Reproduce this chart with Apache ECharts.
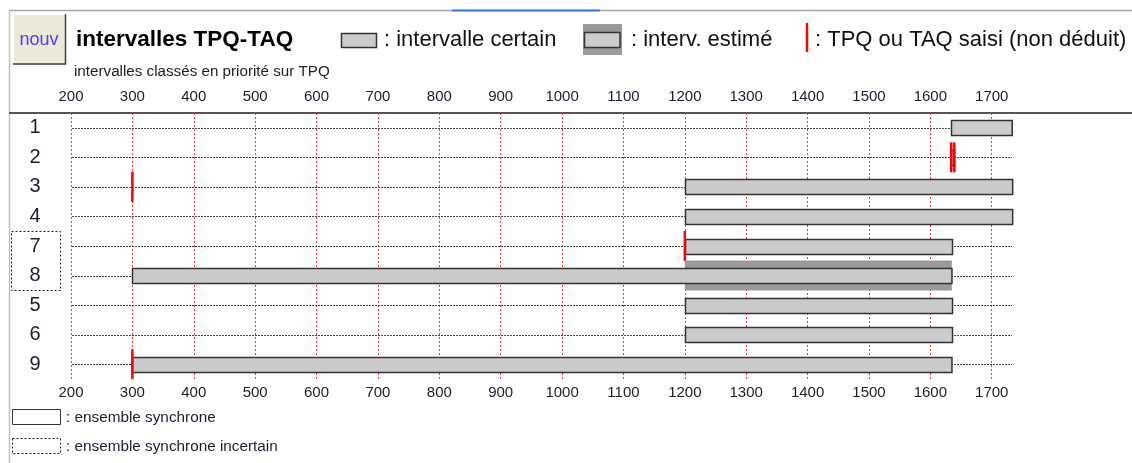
<!DOCTYPE html>
<html><head><meta charset="utf-8">
<script src="https://cdn.jsdelivr.net/npm/echarts@6.0.0/dist/echarts.min.js"></script>
<style>html,body{margin:0;padding:0;background:#fff}#c{width:1132px;height:463px}</style>
</head><body><div id="c"></div>
<script>
// ---- data ----
const rowLabels = ['1','2','3','4','7','8','5','6','9'];
const barStart  = [1634, 1634, 1200, 1200, 1200, 300, 1200, 1200, 300];
const barEnd    = [1733, 1639, 1733, 1733, 1635, 1635, 1635, 1635, 1635];
const estStart  = [null, null, null, null, null, 1200, null, null, null];
const estEnd    = [null, null, null, null, null, 1635, null, null, null];
const redMarks  = [[], [1634, 1639], [300], [], [1200], [], [], [], [300]];
const axisMin = 200, axisMax = 1733, tickStep = 100;

// ---- series data built from arrays ----
const rowLineData = rowLabels.map((_, i) => [axisMin, i, axisMax]);
const estData = [];
estStart.forEach((s, i) => { if (s != null) estData.push([s, i, estEnd[i]]); });
const barData = rowLabels.map((_, i) => [barStart[i], i, barEnd[i]]);
const redData = [];
redMarks.forEach((arr, i) => arr.forEach(v => redData.push([v, i])));

const FONT = '"Liberation Sans", Arial, sans-serif';
const chart = echarts.init(document.getElementById('c'), null, {renderer: 'canvas'});

function rowLine(params, api) {
  const a = api.coord([api.value(0), api.value(1)]);
  const b = api.coord([api.value(2), api.value(1)]);
  return {type: 'line', shape: {x1: a[0] + 1, y1: Math.round(a[1]) + 0.5, x2: b[0], y2: Math.round(a[1]) + 0.5},
          style: {stroke: '#444', lineWidth: 1, lineDash: [2, 1]}};
}
function estRect(params, api) {
  const a = api.coord([api.value(0), api.value(1)]);
  const b = api.coord([api.value(2), api.value(1)]);
  const h = 30;
  return {type: 'rect', shape: {x: a[0], y: a[1] - h / 2, width: b[0] - a[0], height: h},
          style: {fill: '#9a9a9a', stroke: null}};
}
function barRect(params, api) {
  const a = api.coord([api.value(0), api.value(1)]);
  const b = api.coord([api.value(2), api.value(1)]);
  const h = 15;
  return {type: 'rect', shape: {x: Math.round(a[0]) + 0.5, y: Math.round(a[1] - h / 2) + 0.5, width: Math.max(b[0] - a[0], 1), height: h},
          style: {fill: '#cbcbcb', stroke: '#333', lineWidth: 1.5}};
}
function redLine(params, api) {
  const a = api.coord([api.value(0), api.value(1)]);
  return {type: 'line', shape: {x1: a[0], y1: a[1] - 15, x2: a[0], y2: a[1] + 15},
          style: {stroke: '#ff0000', lineWidth: 2.5}};
}

const labelFmt = v => (v % tickStep === 0 ? String(v) : '');

chart.setOption({
  animation: false,
  grid: {left: 71, right: 120, top: 113, height: 266, containLabel: false},
  xAxis: [
    {type: 'value', position: 'top', min: axisMin, max: axisMax, interval: tickStep,
     axisLine: {show: false}, axisTick: {show: false},
     axisLabel: {formatter: labelFmt, fontSize: 15, fontFamily: FONT, color: '#1c1c30', margin: 9, showMaxLabel: false},
     splitLine: {show: true, showMaxLine: false, lineStyle: {color: '#ff3030', type: [2, 2], width: 1}}},
    {type: 'value', position: 'bottom', min: axisMin, max: axisMax, interval: tickStep,
     axisLine: {show: false}, axisTick: {show: false},
     axisLabel: {formatter: labelFmt, fontSize: 15, fontFamily: FONT, color: '#1c1c30', margin: 6, showMaxLabel: false},
     splitLine: {show: false}}
  ],
  yAxis: {type: 'category', data: rowLabels, inverse: true,
    axisLine: {show: false}, axisTick: {show: false}, splitLine: {show: false},
    axisLabel: {fontSize: 20, fontFamily: FONT, color: '#1c1c30', align: 'center', margin: 36, padding: [4, 0, 0, 0]}},
  series: [
    {type: 'custom', renderItem: rowLine, data: rowLineData, encode: {x: [0, 2], y: 1}, z: 1, silent: true},
    {type: 'custom', renderItem: estRect, data: estData, encode: {x: [0, 2], y: 1}, z: 2, silent: true},
    {type: 'custom', renderItem: barRect, data: barData, encode: {x: [0, 2], y: 1}, z: 3, silent: true},
    {type: 'custom', renderItem: redLine, data: redData, encode: {x: 0, y: 1}, z: 4, silent: true}
  ],
  graphic: [
    // frame lines
    {type: 'line', shape: {x1: 9, y1: 10.5, x2: 1132, y2: 10.5}, style: {stroke: '#aca899', lineWidth: 1.5}},
    {type: 'line', shape: {x1: 452, y1: 10.5, x2: 600, y2: 10.5}, style: {stroke: '#3a7be0', lineWidth: 2}},
    {type: 'line', shape: {x1: 9.5, y1: 10, x2: 9.5, y2: 463}, style: {stroke: '#c4c2b6', lineWidth: 1.5}},
    {type: 'line', shape: {x1: 9, y1: 113, x2: 1132, y2: 113}, style: {stroke: '#555', lineWidth: 2}},
    // button
    {type: 'rect', shape: {x: 13, y: 14, width: 53, height: 50}, style: {fill: '#ece9d8', stroke: null}},
    {type: 'polyline', shape: {points: [[13, 64], [65.5, 64], [65.5, 14]]}, style: {stroke: '#404040', lineWidth: 1.5, fill: null}},
    {type: 'polyline', shape: {points: [[13.5, 63], [13.5, 14.5], [65, 14.5]]}, style: {stroke: '#ffffff', lineWidth: 1, fill: null}},
    {type: 'text', x: 39, y: 40, style: {text: 'nouv', font: '18px ' + FONT, fill: '#4a3cff', align: 'center', verticalAlign: 'middle'}},
    // title
    {type: 'text', x: 76, y: 40, style: {text: 'intervalles TPQ-TAQ', font: 'bold 22.5px ' + FONT, fill: '#000', align: 'left', verticalAlign: 'middle'}},
    {type: 'text', x: 74, y: 72, style: {text: 'intervalles classés en priorité sur TPQ', font: '15.2px ' + FONT, fill: '#1c1c30', align: 'left', verticalAlign: 'middle'}},
    // legend: certain
    {type: 'rect', shape: {x: 341.5, y: 33.5, width: 35, height: 14}, style: {fill: '#cbcbcb', stroke: '#333', lineWidth: 1.5}},
    {type: 'text', x: 384, y: 40, style: {text: ': intervalle certain', font: '22px ' + FONT, fill: '#111', align: 'left', verticalAlign: 'middle'}},
    // legend: estimated
    {type: 'rect', shape: {x: 583, y: 24, width: 39, height: 31}, style: {fill: '#9a9a9a', stroke: null}},
    {type: 'rect', shape: {x: 584.5, y: 32.5, width: 35.5, height: 15}, style: {fill: '#cbcbcb', stroke: '#333', lineWidth: 1.5}},
    {type: 'text', x: 631, y: 40, style: {text: ': interv. estimé', font: '22px ' + FONT, fill: '#111', align: 'left', verticalAlign: 'middle'}},
    // legend: red
    {type: 'line', shape: {x1: 807, y1: 23, x2: 807, y2: 52}, style: {stroke: '#ff0000', lineWidth: 2.5}},
    {type: 'text', x: 815, y: 40, style: {text: ': TPQ ou TAQ saisi (non déduit)', font: '22px ' + FONT, fill: '#111', align: 'left', verticalAlign: 'middle'}},
    // uncertain synchronous group box around rows 7 & 8
    {type: 'rect', shape: {x: 11.5, y: 231.5, width: 49, height: 59}, style: {fill: null, stroke: '#222', lineWidth: 1, lineDash: [2, 2]}},
    // bottom legend
    {type: 'rect', shape: {x: 12.5, y: 409.5, width: 48, height: 15}, style: {fill: '#fff', stroke: '#333', lineWidth: 1}},
    {type: 'text', x: 66, y: 418, style: {text: ': ensemble synchrone', font: '15.3px ' + FONT, fill: '#1c1c30', align: 'left', verticalAlign: 'middle'}},
    {type: 'rect', shape: {x: 12.5, y: 438.5, width: 48, height: 15}, style: {fill: '#fff', stroke: '#222', lineWidth: 1, lineDash: [2, 2]}},
    {type: 'text', x: 66, y: 447, style: {text: ': ensemble synchrone incertain', font: '15.3px ' + FONT, fill: '#1c1c30', align: 'left', verticalAlign: 'middle'}}
  ]
});
</script>
</body></html>
